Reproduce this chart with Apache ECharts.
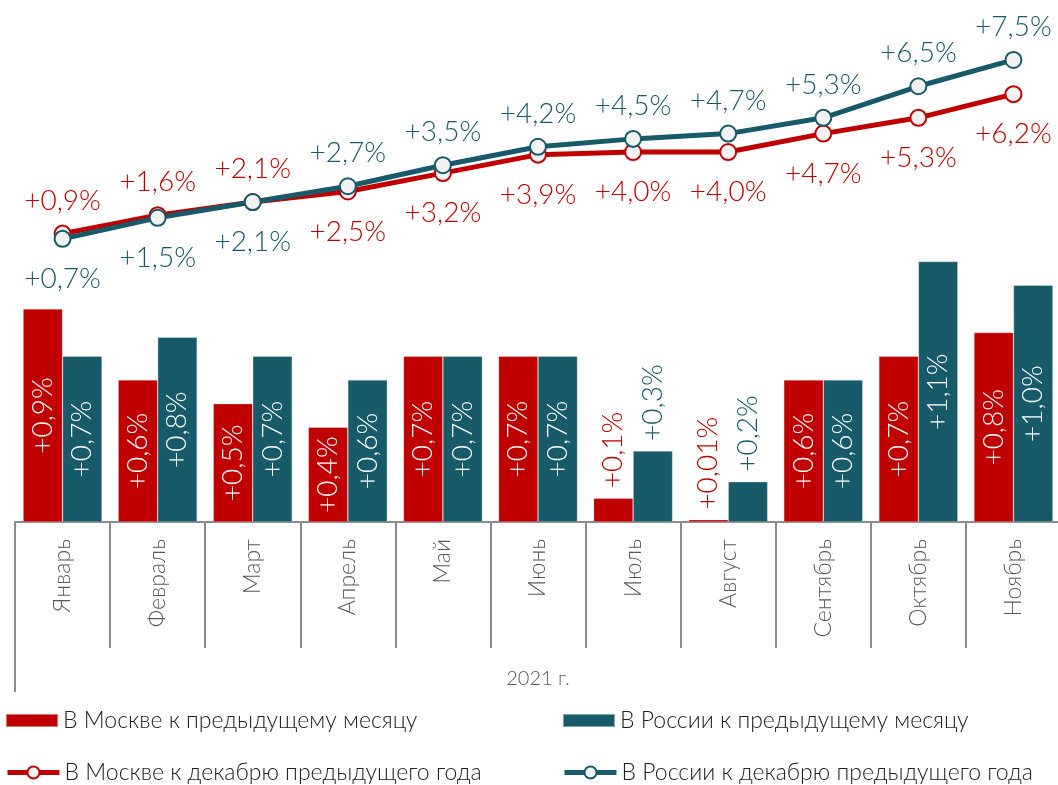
<!DOCTYPE html>
<html>
<head>
<meta charset="utf-8">
<script src="https://cdn.jsdelivr.net/npm/echarts@6/dist/echarts.min.js"></script>
<style>
  html, body { margin: 0; padding: 0; background: #fff; }
  #chart { width: 1058px; height: 785px; }
</style>
</head>
<body>
<div id="chart"></div>
<script>
// месяцы 2021 г.
var months = ['Январь', 'Февраль', 'Март', 'Апрель', 'Май', 'Июнь', 'Июль', 'Август', 'Сентябрь', 'Октябрь', 'Ноябрь'];
var yearLabel = ['2021 г.'];

// к предыдущему месяцу, %
var mosMonth = [0.9, 0.6, 0.5, 0.4, 0.7, 0.7, 0.1, 0.01, 0.6, 0.7, 0.8];
var rusMonth = [0.7, 0.78, 0.7, 0.6, 0.7, 0.7, 0.3, 0.17, 0.6, 1.1, 1.0];
var mosMonthLabels = ['+0,9%', '+0,6%', '+0,5%', '+0,4%', '+0,7%', '+0,7%', '+0,1%', '+0,01%', '+0,6%', '+0,7%', '+0,8%'];
var rusMonthLabels = ['+0,7%', '+0,8%', '+0,7%', '+0,6%', '+0,7%', '+0,7%', '+0,3%', '+0,2%', '+0,6%', '+1,1%', '+1,0%'];

// к декабрю предыдущего года, %
var mosYear = [0.9, 1.6, 2.1, 2.5, 3.2, 3.9, 4.0, 4.0, 4.7, 5.3, 6.2];
var rusYear = [0.7, 1.5, 2.1, 2.7, 3.5, 4.2, 4.5, 4.7, 5.3, 6.5, 7.5];
var mosYearPos = ['top', 'top', 'top', 'bottom', 'bottom', 'bottom', 'bottom', 'bottom', 'bottom', 'bottom', 'bottom'];
var rusYearPos = ['bottom', 'bottom', 'bottom', 'top', 'top', 'top', 'top', 'top', 'top', 'top', 'top'];

var RED = '#C00000';
var TEAL = '#175A6A';
var FONT = 'Lato';

function fmt(v) {
  return '+' + v.toFixed(1).replace('.', ',') + '%';
}

function barData(values, labels, color) {
  return values.map(function (v, i) {
    var small = v < 0.35;  // маленькие столбики — подпись над столбиком
    return {
      value: v,
      label: small ? {
        position: 'top', distance: 10, align: 'left', verticalAlign: 'middle',
        color: color, formatter: labels[i]
      } : { formatter: labels[i] }
    };
  });
}

function lineData(values, pos) {
  return values.map(function (v, i) {
    return { value: v, label: { position: pos[i], distance: pos[i] === 'top' ? 10 : 17 } };
  });
}

function legendItem(name, left, top, isBar) {
  var item = { name: name };
  if (isBar) item.icon = 'rect';
  return {
    left: left, top: top,
    itemWidth: 52, itemHeight: isBar ? 13 : 15,
    lineStyle: { width: 5 },
    textStyle: { fontSize: 23, fontWeight: 300, color: '#222', fontFamily: FONT },
    data: [item]
  };
}

var chart = echarts.init(document.getElementById('chart'));
chart.setOption({
  animation: false,
  textStyle: { fontFamily: FONT },
  grid: { left: 15, width: 1046, top: 1, bottom: 263, outerBoundsMode: 'none' },
  legend: [
    legendItem('В Москве к предыдущему месяцу', 0, 704, true),
    legendItem('В Москве к декабрю предыдущего года', 0, 756),
    legendItem('В России к предыдущему месяцу', 557, 704, true),
    legendItem('В России к декабрю предыдущего года', 557, 756)
  ],
  xAxis: [
    {
      type: 'category',
      data: months,
      position: 'bottom',
      axisLine: { onZero: false, lineStyle: { color: '#8c8c8c', width: 2 } },
      axisTick: { show: true, interval: 0, length: 126, lineStyle: { color: '#8c8c8c', width: 2 } },
      axisLabel: {
        interval: 0, rotate: 90, margin: 17,
        fontSize: 23, fontWeight: 300, color: '#595959', fontFamily: FONT
      }
    },
    {
      type: 'category',
      data: yearLabel,
      position: 'bottom',
      offset: 0,
      axisLine: { show: false, onZero: false },
      axisTick: { show: true, length: 170, lineStyle: { color: '#8c8c8c', width: 2 } },
      axisLabel: { margin: 147, fontSize: 20, fontWeight: 300, color: '#595959', fontFamily: FONT }
    }
  ],
  yAxis: [
    { type: 'value', min: 0, max: 2.2, show: false },
    { type: 'value', min: -10.06, max: 9.74, show: false }
  ],
  series: [
    {
      name: 'В Москве к предыдущему месяцу',
      type: 'bar',
      yAxisIndex: 0,
      barWidth: 39.5,
      barGap: '0%',
      itemStyle: { color: RED, borderColor: 'rgba(255,255,255,0.45)', borderWidth: 0.6 },
      label: {
        show: true, position: 'inside', rotate: 90,
        color: '#fff', fontSize: 28, fontWeight: 300, fontFamily: FONT
      },
      data: barData(mosMonth, mosMonthLabels, RED)
    },
    {
      name: 'В России к предыдущему месяцу',
      type: 'bar',
      yAxisIndex: 0,
      barWidth: 39.5,
      barGap: '0%',
      itemStyle: { color: TEAL, borderColor: 'rgba(255,255,255,0.45)', borderWidth: 0.6 },
      label: {
        show: true, position: 'inside', rotate: 90,
        color: '#fff', fontSize: 28, fontWeight: 300, fontFamily: FONT
      },
      data: barData(rusMonth, rusMonthLabels, TEAL)
    },
    {
      name: 'В Москве к декабрю предыдущего года',
      type: 'line',
      yAxisIndex: 1,
      symbol: 'circle',
      symbolSize: 16,
      lineStyle: { color: RED, width: 5 },
      itemStyle: { color: '#F2F2F2', borderColor: RED, borderWidth: 2 },
      label: {
        show: true, color: RED, fontSize: 28, fontWeight: 300, fontFamily: FONT,
        formatter: function (p) { return fmt(p.value); }
      },
      data: lineData(mosYear, mosYearPos)
    },
    {
      name: 'В России к декабрю предыдущего года',
      type: 'line',
      yAxisIndex: 1,
      symbol: 'circle',
      symbolSize: 16,
      lineStyle: { color: TEAL, width: 5 },
      itemStyle: { color: '#F2F2F2', borderColor: TEAL, borderWidth: 2 },
      label: {
        show: true, color: TEAL, fontSize: 28, fontWeight: 300, fontFamily: FONT,
        formatter: function (p) { return fmt(p.value); }
      },
      data: lineData(rusYear, rusYearPos)
    }
  ]
});
</script>
</body>
</html>
